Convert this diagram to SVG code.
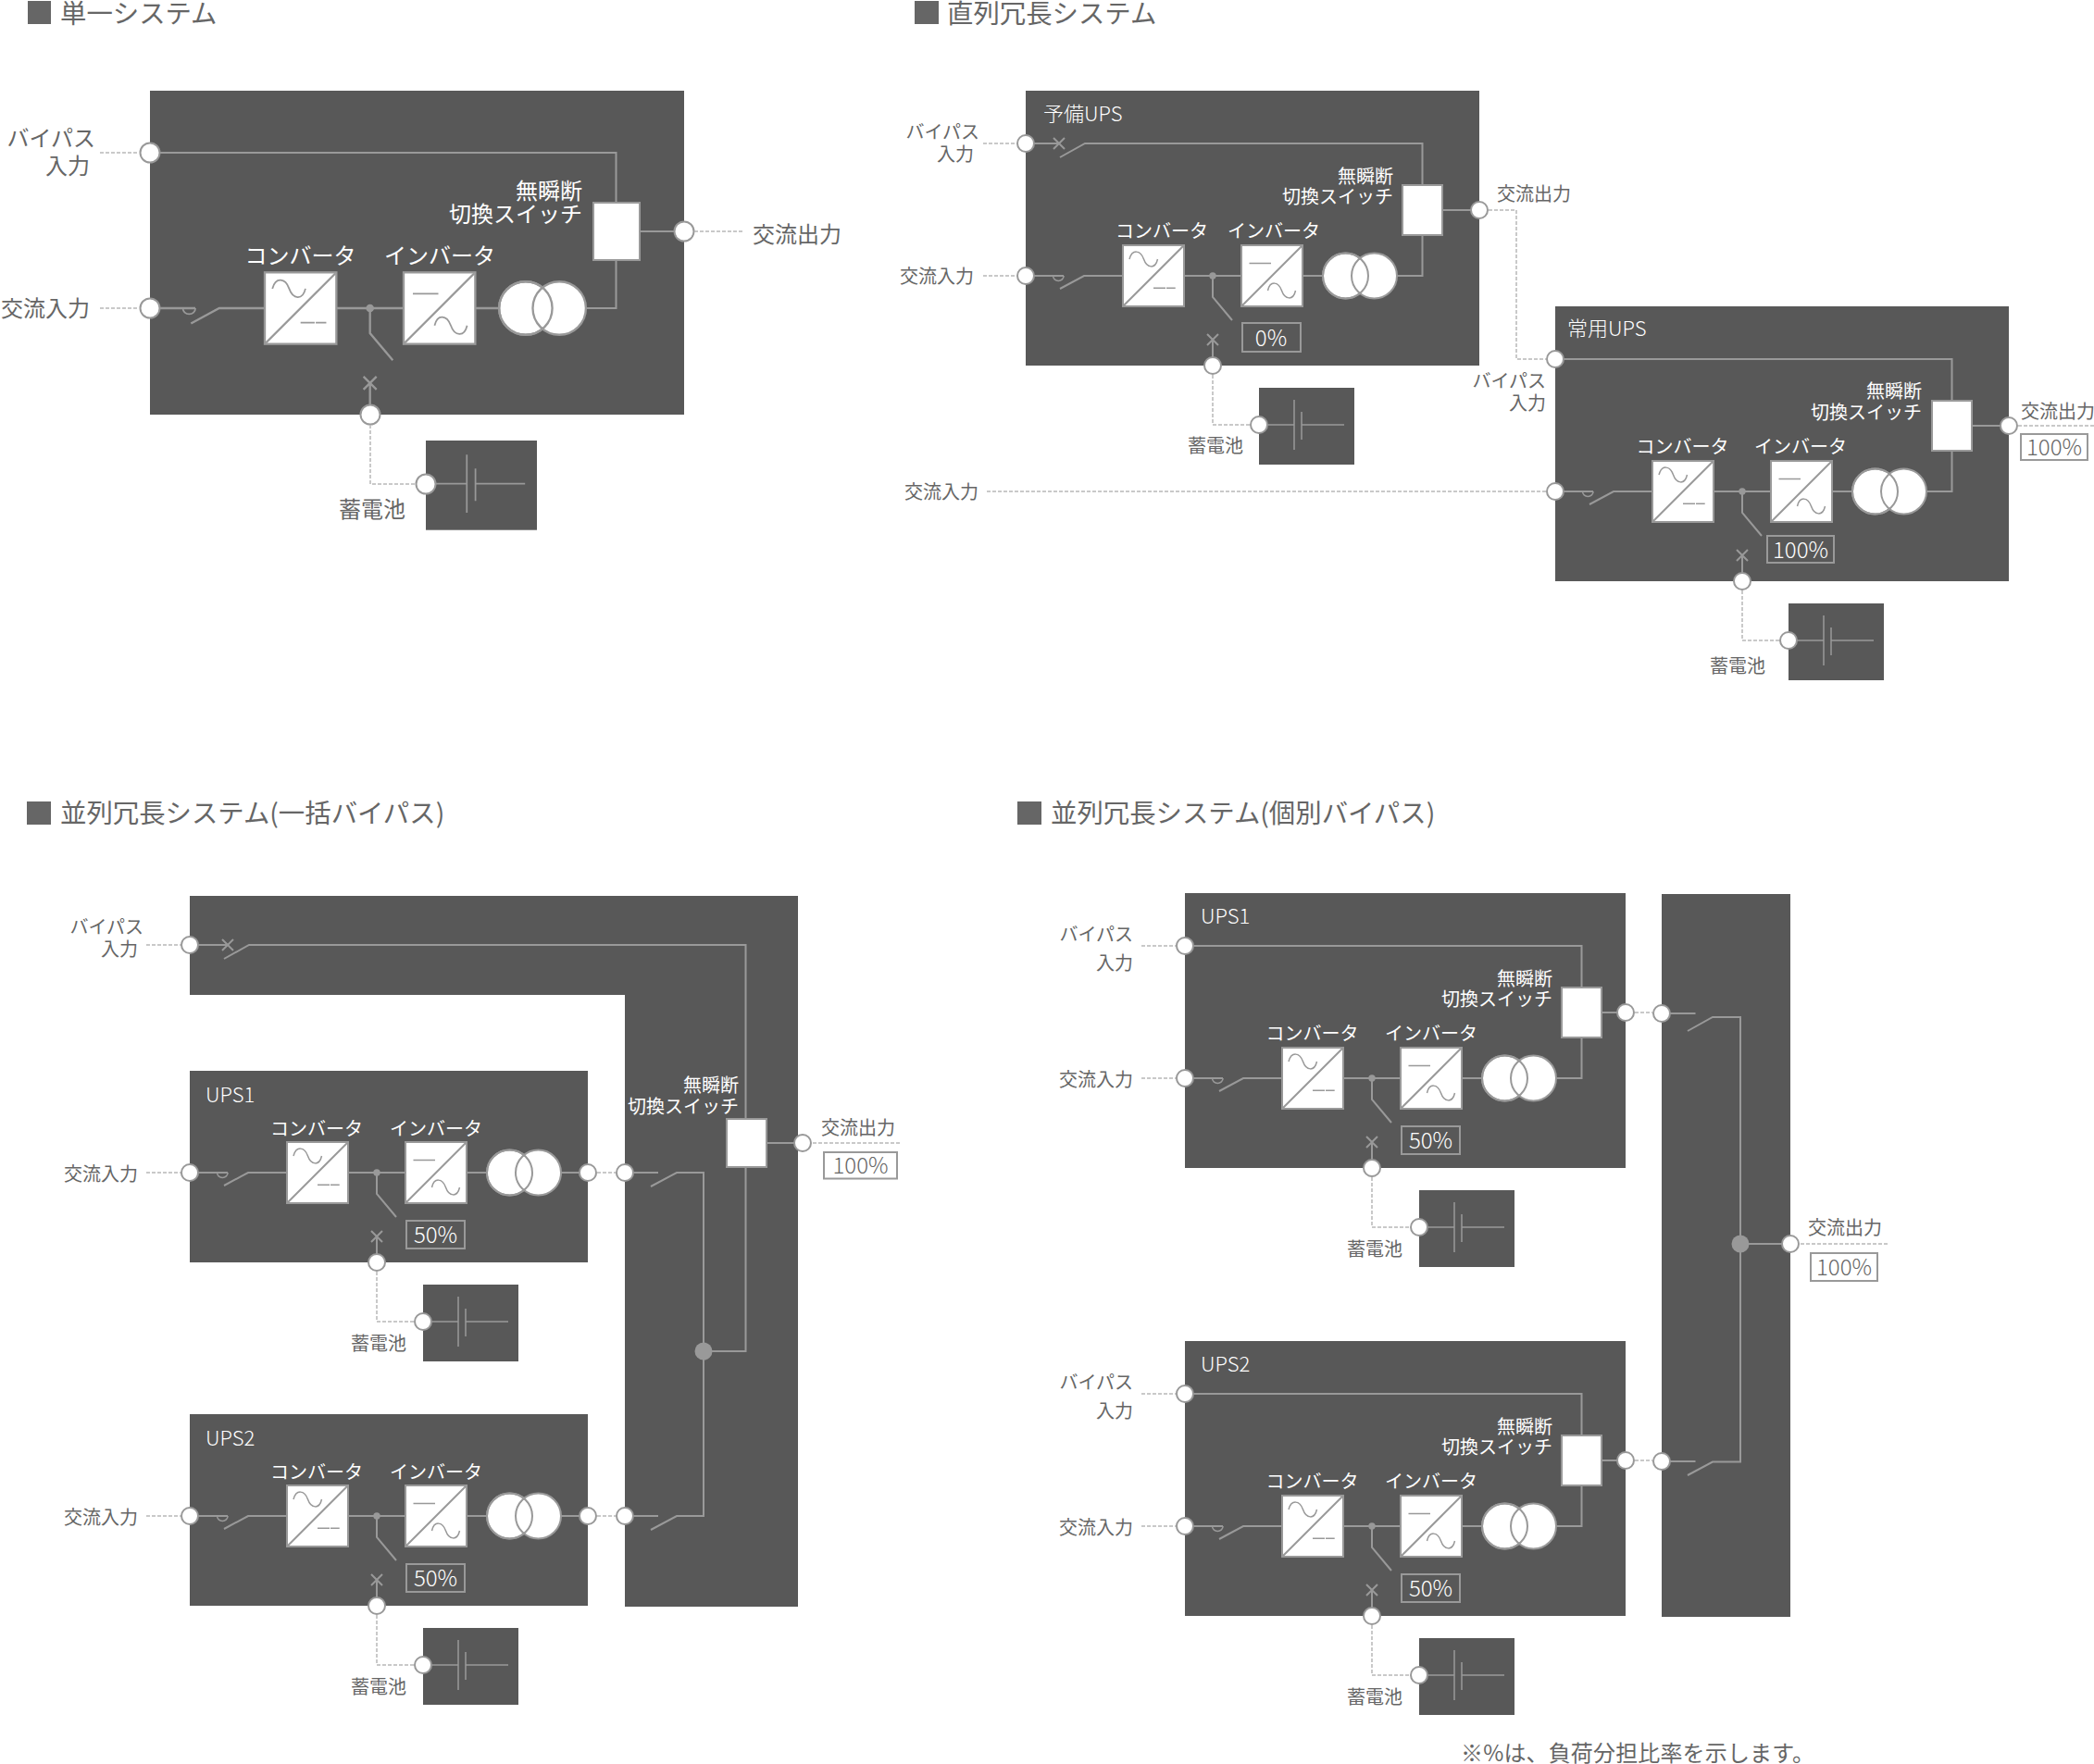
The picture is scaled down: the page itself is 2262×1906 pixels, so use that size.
<svg xmlns="http://www.w3.org/2000/svg" width="2262" height="1906" viewBox="0 0 2262 1906">
<style>
text{font-family:"Noto Sans CJK JP","Liberation Sans",sans-serif;font-weight:400}
.title{font-size:28.400px;fill:#666}
.s20{font-size:20px;fill:#666}
.s24{font-size:24px;fill:#666}
.w20{font-size:20px;fill:#fff}
.w24{font-size:24px;fill:#fff}
.ups{font-size:22px;fill:#fff;font-weight:300}
.pct{font-size:24px;fill:#fff;text-anchor:middle;font-weight:300}
.pcd{font-size:24px;fill:#666;text-anchor:middle;font-weight:300}
.e{text-anchor:end}
.m{text-anchor:middle}
.box{fill:#585858}
.sq{fill:#666}
.w{fill:none;stroke:#999;stroke-width:2}
.t{fill:none;stroke:#999;stroke-width:1.5}
.wh{fill:#fff;stroke:#999;stroke-width:2}
.fr{fill:none;stroke:#999;stroke-width:2}
.p{fill:#fff;stroke:#999;stroke-width:2}
.j{fill:#999}
.d{fill:none;stroke:#b8b8b8;stroke-width:1.500;stroke-dasharray:4 2}
</style>
<defs>
<g id="mod">
<path class="w" d="M-105 0H-64M-68 14L-42 0H0M66 0H128M194 0H216M97 0V23L118 48M97 97V69M91 63L103 75M103 63L91 75"/>
<path class="t" d="M-75.500 0a5.800 5.500 0 0 0 11.600 0"/>
<circle class="j" cx="97" cy="0" r="3.700"/>
<rect class="wh" x="0" y="-33" width="66" height="66"/>
<path class="w" d="M1 32L65 -32"/>
<path class="t" d="M7 -18C10 -29 19 -28 22.500 -18S35 -7 37.500 -18M33 13.300H46M47 13.300H56.700"/>
<rect class="wh" x="128" y="-33" width="66" height="66"/>
<path class="w" d="M129 32L193 -32"/>
<path class="t" d="M136.500 -13.400H160M156.500 16C159 5 168 6 171.500 16S184 27 186.500 16"/>
<circle class="wh" cx="240.500" cy="0" r="24.500"/>
<circle class="wh" cx="271.500" cy="0" r="24.500"/>
<circle class="w" cx="240.500" cy="0" r="24.500"/>
</g>
<g id="sts">
<path class="w" d="M296 0H323.500V-44"/>
<rect class="wh" x="302" y="-98" width="43" height="54"/>
</g>
<g id="bat">
<rect class="box" x="0" y="0" width="103" height="83"/>
<path class="t" d="M0 40H38M38 13V67M46 26V56M46 40H92"/>
</g>
</defs>

<g id="title-a"><rect class="sq" x="30" y="1" width="25" height="25"/><text class="title" x="65" y="25">単一システム</text></g>
<g id="title-b"><rect class="sq" x="988" y="1" width="26" height="25"/><text class="title" x="1023" y="25">直列冗長システム</text></g>
<g id="title-c"><rect class="sq" x="29" y="866" width="26" height="25"/><text class="title" x="65" y="889">並列冗長システム(一括バイパス)</text></g>
<g id="title-d"><rect class="sq" x="1099" y="866" width="26" height="25"/><text class="title" x="1135" y="889">並列冗長システム(個別バイパス)</text></g>

<g id="a-ups">
<rect class="box" x="162" y="98" width="577" height="350"/>
<use href="#mod" transform="translate(286,333) scale(1.172)"/>
<path class="w" d="M162 165H665.500V219M633 333H665.500V281M691 250H739"/>
<rect class="wh" x="641" y="219" width="50" height="62"/>
<circle class="p" cx="162" cy="165" r="10.500"/><circle class="p" cx="162" cy="333" r="10.500"/><circle class="p" cx="739" cy="250" r="10.500"/><circle class="p" cx="400" cy="448" r="10.500"/>
<text class="w24 m" x="324.500" y="285">コンバータ</text><text class="w24 m" x="475" y="285">インバータ</text>
<text class="w24 e" x="629" y="215">無瞬断</text><text class="w24 e" x="629" y="240">切換スイッチ</text>
<text class="s24 e" x="103" y="158">バイパス</text><text class="s24 e" x="97" y="188">入力</text><text class="s24 e" x="97" y="342">交流入力</text><text class="s24" x="813" y="262">交流出力</text>
</g>
<g id="a-battery">
<use href="#bat" transform="translate(460,476) scale(1.165)"/>
<circle class="p" cx="460" cy="523" r="10.500"/>
<text class="s24 e" x="438" y="559">蓄電池</text>
</g>

<g id="b-standby">
<rect class="box" x="1108" y="98" width="490" height="297"/>
<use href="#mod" transform="translate(1213,298)"/>
<use href="#sts" transform="translate(1213,298)"/>
<path class="w" d="M1108 155H1144M1145 170L1172 155H1536.500V200M1558 227H1598M1138 149L1150 161M1150 149L1138 161"/>
<rect class="fr" x="1342" y="349" width="63" height="31"/>
<circle class="p" cx="1108" cy="155" r="9"/><circle class="p" cx="1108" cy="298" r="9"/><circle class="p" cx="1598" cy="227" r="9"/><circle class="p" cx="1310" cy="395" r="9"/>
<text class="ups" x="1127" y="131">予備UPS</text>
<text class="w20 m" x="1255" y="256.600">コンバータ</text><text class="w20 m" x="1376" y="256.600">インバータ</text>
<text class="w20 e" x="1505" y="197.600">無瞬断</text><text class="w20 e" x="1505" y="219.600">切換スイッチ</text>
<text class="pct" x="1373" y="374">0%</text>
<text class="s20 e" x="1058" y="149.600">バイパス</text><text class="s20 e" x="1052" y="174.300">入力</text><text class="s20 e" x="1052" y="305.600">交流入力</text><text class="s20" x="1617" y="216.600">交流出力</text>
</g>
<g id="b-standby-battery">
<use href="#bat" transform="translate(1360,419)"/>
<circle class="p" cx="1360" cy="459" r="9"/>
<text class="s20 e" x="1343" y="488.600">蓄電池</text>
</g>

<g id="b-main">
<rect class="box" x="1680" y="331" width="490" height="297"/>
<use href="#mod" transform="translate(1785,531)"/>
<use href="#sts" transform="translate(1785,531)"/>
<path class="w" d="M1680 388H2108.500V433M2130 460H2170"/>
<rect class="fr" x="1909" y="579" width="72" height="29"/>
<circle class="p" cx="1680" cy="388" r="9"/><circle class="p" cx="1680" cy="531" r="9"/><circle class="p" cx="2170" cy="460" r="9"/><circle class="p" cx="1882" cy="628" r="9"/>
<text class="ups" x="1693" y="363">常用UPS</text>
<text class="w20 m" x="1817.500" y="489.600">コンバータ</text><text class="w20 m" x="1945" y="489.600">インバータ</text>
<text class="w20 e" x="2076" y="430">無瞬断</text><text class="w20 e" x="2076" y="452.600">切換スイッチ</text>
<text class="pct" x="1945" y="603">100%</text>
<rect class="p" x="2183" y="469" width="72" height="28"/>
<text class="pcd" x="2219" y="492">100%</text>
<text class="s20 e" x="1670" y="418.600">バイパス</text><text class="s20 e" x="1670" y="442.600">入力</text><text class="s20 e" x="1057" y="539">交流入力</text><text class="s20" x="2183" y="451.600">交流出力</text>
</g>
<g id="b-main-battery">
<use href="#bat" transform="translate(1932,652)"/>
<circle class="p" cx="1932" cy="692" r="9"/>
<text class="s20 e" x="1907" y="726.600">蓄電池</text>
</g>

<g id="c-static">
<path class="box" d="M205 968H862V1736H675V1075H205Z"/>
<path class="w" d="M205 1021H246M240 1015L252 1027M252 1015L240 1027M242 1036L269 1021H805.500V1209M805.500 1261V1460H760M828 1235H867M675 1267H711M703 1282L731 1267H760V1638H731L703 1653M675 1638H711"/>
<circle class="j" cx="760" cy="1460" r="9.500"/>
<rect class="wh" x="785" y="1209" width="43" height="52"/>
<circle class="p" cx="205" cy="1021" r="9"/><circle class="p" cx="867" cy="1235" r="9"/><circle class="p" cx="675" cy="1267" r="9"/><circle class="p" cx="675" cy="1638" r="9"/>
<text class="w20 e" x="798" y="1179.500">無瞬断</text><text class="w20 e" x="798" y="1202.600">切換スイッチ</text>
<text class="s20 e" x="155" y="1008.600">バイパス</text><text class="s20 e" x="149" y="1032.600">入力</text><text class="s20" x="887" y="1225.600">交流出力</text>
<rect class="p" x="890" y="1245" width="79" height="28.500"/>
<text class="pcd" x="929.500" y="1268">100%</text>
</g>
<g id="c-ups1">
<rect class="box" x="205" y="1157" width="430" height="207"/>
<use href="#mod" transform="translate(310,1267)"/>
<path class="w" d="M605.500 1267H635"/>
<rect class="fr" x="439" y="1319" width="63" height="30"/>
<circle class="p" cx="205" cy="1267" r="9"/><circle class="p" cx="635" cy="1267" r="9"/><circle class="p" cx="407" cy="1364" r="9"/>
<text class="ups" x="222" y="1191">UPS1</text>
<text class="w20 m" x="342" y="1226.600">コンバータ</text><text class="w20 m" x="471" y="1226.600">インバータ</text>
<text class="pct" x="470.500" y="1342.600">50%</text>
<text class="s20 e" x="149" y="1275.600">交流入力</text>
</g>
<g id="c-battery1">
<use href="#bat" transform="translate(457,1388)"/>
<circle class="p" cx="457" cy="1428" r="9"/>
<text class="s20 e" x="439" y="1458.600">蓄電池</text>
</g>
<g id="c-ups2">
<rect class="box" x="205" y="1528" width="430" height="207"/>
<use href="#mod" transform="translate(310,1638)"/>
<path class="w" d="M605.500 1638H635"/>
<rect class="fr" x="439" y="1690" width="63" height="30"/>
<circle class="p" cx="205" cy="1638" r="9"/><circle class="p" cx="635" cy="1638" r="9"/><circle class="p" cx="407" cy="1735" r="9"/>
<text class="ups" x="222" y="1562">UPS2</text>
<text class="w20 m" x="342" y="1597.600">コンバータ</text><text class="w20 m" x="471" y="1597.600">インバータ</text>
<text class="pct" x="470.500" y="1713.600">50%</text>
<text class="s20 e" x="149" y="1646.600">交流入力</text>
</g>
<g id="c-battery2">
<use href="#bat" transform="translate(457,1759)"/>
<circle class="p" cx="457" cy="1799" r="9"/>
<text class="s20 e" x="439" y="1829.600">蓄電池</text>
</g>

<g id="d-ups1">
<rect class="box" x="1280" y="965" width="476" height="297"/>
<use href="#mod" transform="translate(1385,1165)"/>
<use href="#sts" transform="translate(1385,1165)"/>
<path class="w" d="M1280 1022H1708.500V1067M1730 1094H1756"/>
<rect class="fr" x="1514" y="1217" width="63" height="30"/>
<circle class="p" cx="1280" cy="1022" r="9"/><circle class="p" cx="1280" cy="1165" r="9"/><circle class="p" cx="1756" cy="1094" r="9"/><circle class="p" cx="1482" cy="1262" r="9"/>
<text class="ups" x="1297" y="998">UPS1</text>
<text class="w20 m" x="1417.500" y="1123.600">コンバータ</text><text class="w20 m" x="1546" y="1123.600">インバータ</text>
<text class="w20 e" x="1677" y="1064.600">無瞬断</text><text class="w20 e" x="1677" y="1086.600">切換スイッチ</text>
<text class="pct" x="1545.500" y="1240.600">50%</text>
<text class="s20 e" x="1224" y="1016.600">バイパス</text><text class="s20 e" x="1224" y="1047.600">入力</text><text class="s20 e" x="1224" y="1173.600">交流入力</text>
</g>
<g id="d-battery1">
<use href="#bat" transform="translate(1533,1286)"/>
<circle class="p" cx="1533" cy="1326" r="9"/>
<text class="s20 e" x="1515" y="1356.600">蓄電池</text>
</g>
<g id="d-ups2">
<rect class="box" x="1280" y="1449" width="476" height="297"/>
<use href="#mod" transform="translate(1385,1649)"/>
<use href="#sts" transform="translate(1385,1649)"/>
<path class="w" d="M1280 1506H1708.500V1551M1730 1578H1756"/>
<rect class="fr" x="1514" y="1701" width="63" height="30"/>
<circle class="p" cx="1280" cy="1506" r="9"/><circle class="p" cx="1280" cy="1649" r="9"/><circle class="p" cx="1756" cy="1578" r="9"/><circle class="p" cx="1482" cy="1746" r="9"/>
<text class="ups" x="1297" y="1482">UPS2</text>
<text class="w20 m" x="1417.500" y="1607.600">コンバータ</text><text class="w20 m" x="1546" y="1607.600">インバータ</text>
<text class="w20 e" x="1677" y="1548.600">無瞬断</text><text class="w20 e" x="1677" y="1570.600">切換スイッチ</text>
<text class="pct" x="1545.500" y="1724.600">50%</text>
<text class="s20 e" x="1224" y="1500.600">バイパス</text><text class="s20 e" x="1224" y="1531.600">入力</text><text class="s20 e" x="1224" y="1657.600">交流入力</text>
</g>
<g id="d-battery2">
<use href="#bat" transform="translate(1533,1770)"/>
<circle class="p" cx="1533" cy="1810" r="9"/>
<text class="s20 e" x="1515" y="1840.600">蓄電池</text>
</g>
<g id="d-output">
<rect class="box" x="1795" y="966" width="139" height="781"/>
<path class="w" d="M1795 1095H1831.500M1823 1114L1850 1099H1880V1579.500H1850L1823 1594M1795 1579H1831.500M1880 1344H1934"/>
<circle class="j" cx="1880" cy="1344" r="9.500"/>
<circle class="p" cx="1795" cy="1095" r="9"/><circle class="p" cx="1795" cy="1579" r="9"/><circle class="p" cx="1934" cy="1344" r="9"/>
<text class="s20" x="1953" y="1333.600">交流出力</text>
<rect class="p" x="1956" y="1354" width="72" height="30"/>
<text class="pcd" x="1992" y="1377.600">100%</text>
</g>

<g id="connectors">
<path class="d" d="M108 165H150M108 333H150M750 250H803M400 459V523H449"/>
<path class="d" d="M1062 155H1098M1062 298H1098M1608 227H1638V388H1670M1310 405V459H1350M1066 531H1670M1882 638V692H1922M2180 460H2262"/>
<path class="d" d="M158 1021H195M158 1267H195M158 1638H195M645 1267H665M645 1638H665M407 1374V1428H447M407 1745V1799H447M878 1235H973"/>
<path class="d" d="M1233 1022H1270M1233 1165H1270M1233 1506H1270M1233 1649H1270M1766 1094H1785M1766 1578H1785M1482 1272V1326H1523M1482 1756V1810H1523M1945 1344H2040"/>
</g>
<text id="note" class="s24" x="1578" y="1903" letter-spacing=".15">※%は、負荷分担比率を示します。</text>
</svg>
